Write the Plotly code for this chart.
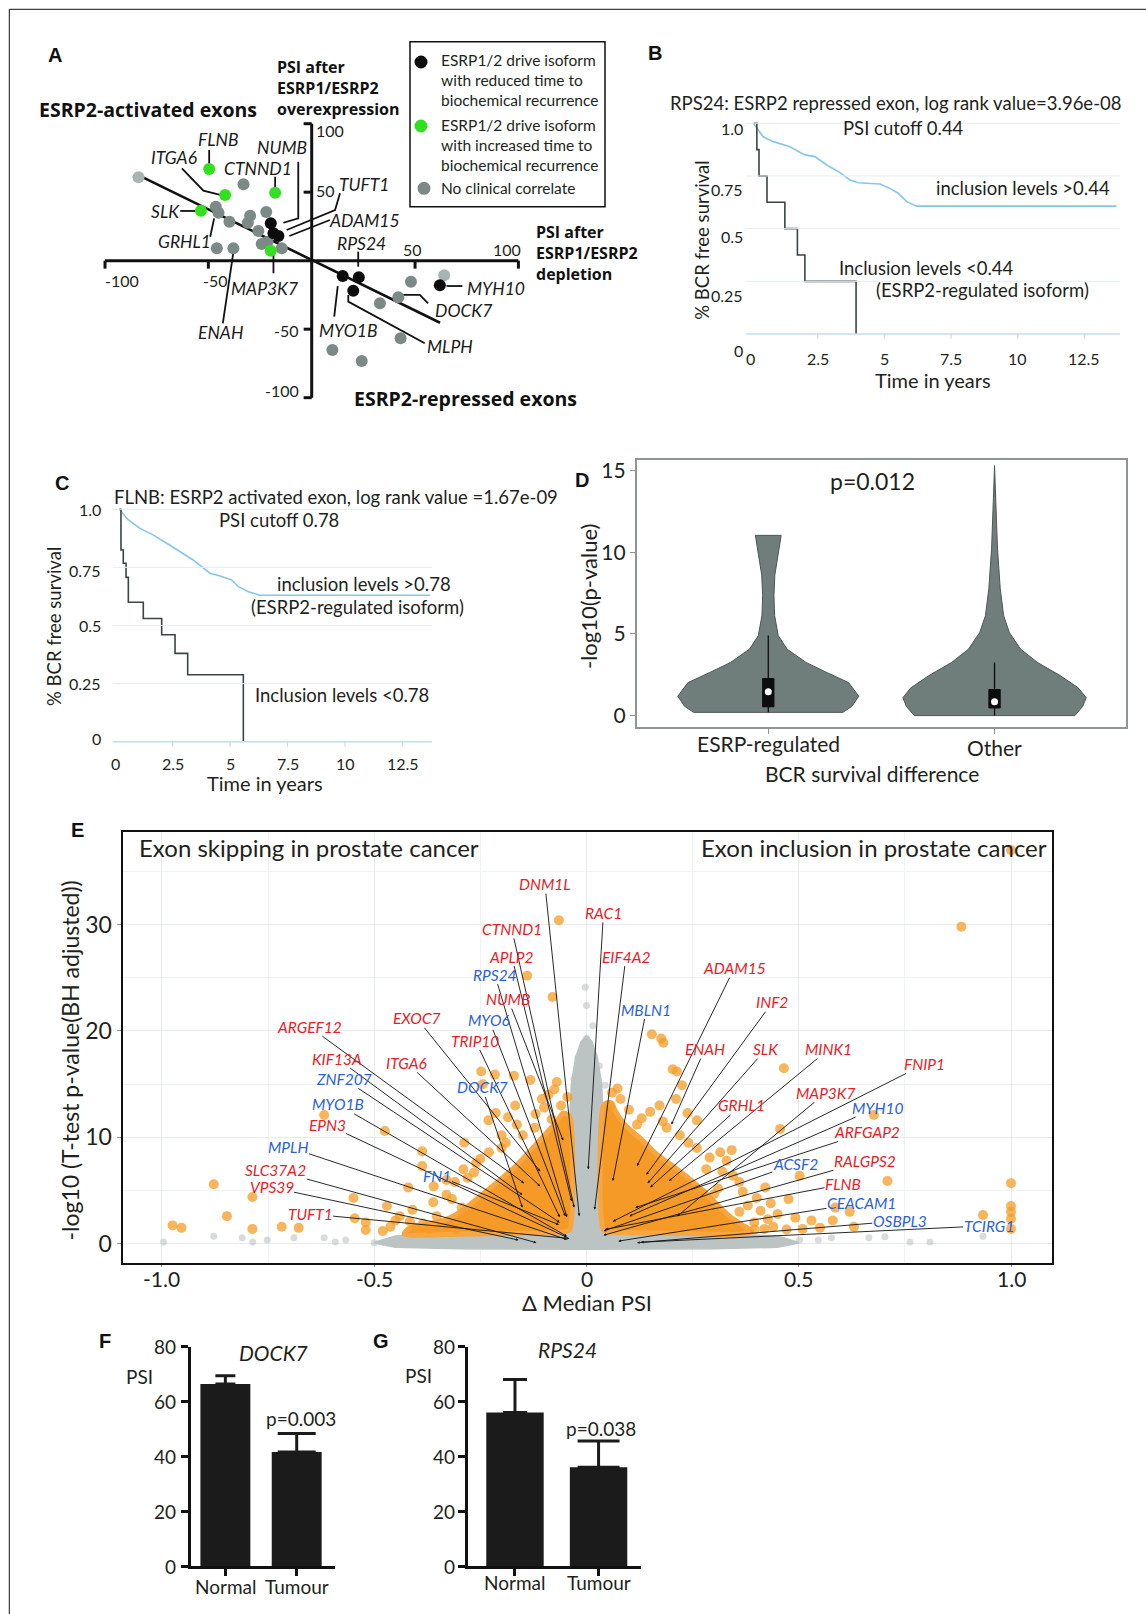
import plotly.graph_objects as go

W, H = 1146, 1614
FONT = "Lato, 'Open Sans', sans-serif"
BOLD = "'Open Sans', Lato, sans-serif"
HEAD = "'Liberation Sans', Arial, sans-serif"
INK = "#231f20"

# ================= DATA =================
# ---- Panel A: PSI after overexpression vs depletion ----
a_gray_x = [-33.0, -46.4, -45.1, -39.8, -29.8, -30.9, -22.0, -25.8, -45.9, -37.9, -24.2, -21.4, -14.5, 48.0, 41.9, 33.0, 43.0, 10.0, 24.2]
a_gray_y = [55.8, 39.4, 35.0, 28.5, 32.8, 27.7, 35.5, 21.7, 9.0, 9.0, 12.2, 13.9, 9.0, -15.3, -26.7, -31.1, -56.7, -65.2, -73.2]
a_light_x = [-83.8, 64.1]
a_light_y = [60.9, -10.7]
a_green_x = [-49.6, -41.9, -17.7, -53.6, -19.8]
a_green_y = [66.9, 48.0, 49.6, 36.5, 7.3]
a_black_x = [-19.8, -18.5, -16.1, 15.0, 22.8, 20.1, 62.0]
a_black_y = [27.3, 20.0, 18.0, -11.2, -12.1, -21.9, -18.0]
a_trend_x = [-83.9, 62.1]
a_trend_y = [62.5, -45.3]
a_genes = ["FLNB", "ITGA6", "CTNND1", "NUMB", "TUFT1", "ADAM15", "SLK", "GRHL1",
           "MAP3K7", "ENAH", "RPS24", "MYO1B", "MLPH", "DOCK7", "MYH10"]
a_gene_x = [-45.0, -66.8, -26.1, -14.2, 25.7, 25.7, -70.9, -61.7, -22.6, -44.3, 24.2, 17.7, 66.8, 73.2, 89.4]
a_gene_y = [88.8, 75.5, 67.4, 82.8, 55.3, 29.2, 35.8, 13.9, -20.1, -52.3, 12.7, -51.3, -62.3, -36.0, -20.1]
a_leaders = {
    "FLNB": [(-49.6, 80.8), (-49.6, 70.6)],
    "ITGA6": [(-62.8, 67.4), (-52.4, 51.1), (-44.3, 48.0)],
    "CTNND1": [(-17.7, 61.3), (-17.7, 53.6)],
    "NUMB": [(-6.5, 72.3), (-6.5, 30.9), (-13.7, 27.7)],
    "TUFT1": [(13.7, 49.2), (11.3, 37.0), (-12.1, 22.4)],
    "ADAM15": [(8.8, 29.7), (-10.8, 18.0)],
    "SLK": [(-63.6, 36.3), (-55.6, 36.3)],
    "GRHL1": [(-49.1, 17.5), (-47.2, 30.9)],
    "MAP3K7": [(-18.5, 5.4), (-18.5, -9.2)],
    "ENAH": [(-43.0, -45.7), (-37.5, 10.2)],
    "RPS24": [(22.5, 6.6), (22.5, -4.4)],
    "MYO1B": [(12.6, -18.5), (10.9, -40.9)],
    "MLPH": [(54.7, -60.3), (17.7, -29.9), (17.7, -25.0)],
    "DOCK7": [(56.3, -31.1), (52.3, -25.0), (44.3, -25.0)],
    "MYH10": [(65.2, -18.5), (72.9, -18.5)],
}
a_xtick_text = ["-100", "-50", "50", "100"]
a_xtick_vals = [-100, -50, 50, 100]
a_ytick_text = ["100", "50", "-50", "-100"]
a_ytick_vals = [100, 50, -50, -100]

# ---- Panel B: RPS24 Kaplan-Meier ----
b_hi_t = [0.09, 0.46, 0.84, 1.46, 2.02, 2.4, 2.84, 3.34, 3.71, 4.02, 4.84, 5.21, 5.52, 5.84, 6.21, 13.7]
b_hi_s = [1.0, 0.936, 0.913, 0.889, 0.85, 0.842, 0.802, 0.766, 0.731, 0.718, 0.712, 0.691, 0.668, 0.628, 0.607, 0.607]
b_lo_t = [0.1, 0.22, 0.3, 0.6, 1.27, 1.74, 2.02, 3.94]
b_lo_s = [1.0, 0.875, 0.75, 0.625, 0.5, 0.375, 0.25, 0.0]
km_ytick_vals = [1.0, 0.75, 0.5, 0.25, 0]
km_ytick_text = ["1.0", "0.75", "0.5", "0.25", "0"]
km_xtick_vals = [0, 2.5, 5, 7.5, 10, 12.5]
km_xtick_text = ["0", "2.5", "5", "7.5", "10", "12.5"]

# ---- Panel C: FLNB Kaplan-Meier ----
c_hi_t = [0.19, 0.58, 1.09, 1.67, 2.25, 2.83, 3.4, 4.13, 4.57, 5.07, 5.36, 5.8, 6.3, 13.7]
c_hi_s = [1.0, 0.954, 0.918, 0.889, 0.854, 0.818, 0.782, 0.725, 0.713, 0.696, 0.667, 0.645, 0.63, 0.63]
c_lo_t = [0.19, 0.26, 0.36, 0.48, 0.58, 1.23, 2.03, 2.61, 3.16, 5.58]
c_lo_s = [1.0, 0.825, 0.768, 0.707, 0.60, 0.53, 0.46, 0.38, 0.288, 0.0]

# ---- Panel D: violin profiles (value, half-width) and box statistics ----
d_cats = ["ESRP-regulated", "Other"]
esrp_prof_y = [0.2, 0.57, 1.19, 2.02, 2.63, 3.25, 4.07, 4.9, 6.13, 7.36, 8.6, 9.63, 10.45, 11.03]
esrp_prof_hw = [0.33, 0.37, 0.40, 0.355, 0.26, 0.167, 0.083, 0.044, 0.028, 0.025, 0.029, 0.041, 0.049, 0.057]
other_prof_y = [0.0, 0.57, 1.1, 1.7, 2.45, 3.25, 4.07, 5.1, 6.13, 7.8, 10.25, 13.3, 15.3]
other_prof_hw = [0.355, 0.39, 0.405, 0.37, 0.29, 0.19, 0.115, 0.065, 0.04, 0.025, 0.013, 0.005, 0.0]
d_q1 = [0.54, 0.47]
d_med = [1.46, 0.85]
d_q3 = [2.27, 1.6]
d_lo = [0.2, 0.0]
d_hi = [4.9, 3.25]
d_ytick_vals = [0, 5, 10, 15]

# ---- Panel E: volcano ----
e_or_x = [-0.975, -0.954, -0.878, -0.847, -0.787, -0.787, -0.718, -0.678, -0.618, -0.549, -0.546, -0.475, -0.47,
          -0.462, -0.42, -0.416, -0.40, -0.385, -0.37, -0.387, -0.387, -0.353, -0.361, -0.317, -0.307, -0.294,
          -0.288, -0.29, -0.265, -0.248, -0.216, -0.171, -0.132, -0.244, -0.231, -0.214, -0.185, -0.164, -0.168,
          -0.105, -0.076, -0.082, -0.056, -0.122, -0.08, -0.14, -0.065, -0.2, -0.25, -0.33, -0.06,
          -0.52, -0.44, -0.41, -0.36, -0.33, -0.31, -0.28, -0.26, -0.23, -0.2, -0.19, -0.15, -0.12, -0.1, -0.09,
          -0.07, -0.045, -0.52, -0.48, -0.45,
          1.0, 0.883, 0.154, 0.176, 0.181, 0.465, 0.203, 0.213, 0.073, 0.225, 0.057, 0.172, 0.211, 0.677, 0.456,
          0.238, 0.26, 0.119, 0.189, 0.075, 0.24, 0.315, 0.342, 0.33, 0.282, 0.345, 0.502, 0.709, 1.0, 0.421,
          0.368, 0.273, 0.3, 0.401, 0.476, 0.434, 0.586, 1.0, 1.0, 1.0, 1.0, 0.934, 0.492, 0.427, 0.395, 0.335,
          0.396, 0.419, 0.471, 0.509, 0.63, 0.289, 0.273,
          0.06, 0.08, 0.1, 0.13, 0.15, 0.18, 0.22, 0.26, 0.29, 0.32, 0.36, 0.38, 0.41, 0.45, 0.44, 0.36, 0.31,
          0.53, 0.55, 0.58, 0.62]
e_or_y = [1.73, 1.5, 5.6, 2.6, 4.4, 1.4, 1.6, 1.5, 12.1, 4.3, 2.4, 10.6, 3.55,
          1.6, 5.3, 2.1, 1.5, 1.9, 1.4, 8.7, 7.3, 2.6, 3.9, 4.2, 1.35, 3.4,
          9.5, 7.0, 6.7, 16.2, 15.9, 15.8, 15.4, 15.0, 11.6, 12.3, 11.9, 11.2, 13.0,
          13.6, 14.5, 11.7, 11.0, 10.9, 23.2, 25.2, 30.4, 9.0, 8.0, 6.0, 13.0,
          2.0, 2.6, 3.2, 5.4, 4.6, 5.8, 6.2, 7.6, 8.6, 10.2, 9.5, 10.2, 12.2, 12.8, 14.0,
          15.2, 13.8, 1.3, 1.2, 2.2,
          37.0, 29.8, 19.7, 19.3, 18.9, 16.5, 16.4, 16.2, 14.6, 14.9, 13.0, 13.0, 13.6, 12.1, 10.8,
          12.3, 11.6, 11.2, 10.9, 10.5, 9.5, 8.6, 8.8, 7.8, 7.0, 6.4, 6.4, 5.9, 5.7, 5.3,
          4.9, 4.8, 4.65, 4.3, 4.2, 3.8, 3.4, 3.55, 3.0, 2.35, 1.4, 2.7, 2.45, 2.3, 2.0, 1.7,
          1.35, 1.4, 1.35, 1.4, 1.6, 1.9, 1.6,
          14.2, 13.6, 12.6, 11.8, 12.4, 11.5, 10.2, 9.0, 8.1, 6.8, 5.8, 3.6, 3.1, 2.8, 1.6, 3.0, 5.2,
          2.2, 1.5, 2.2, 3.0]
e_gr_x = [-0.996, -0.878, -0.811, -0.786, -0.752, -0.689, -0.618, -0.592, -0.567, -0.5, -0.475, -0.437, -0.366,
          -0.349, -0.328, 0.546, 0.577, 0.665, 0.703, 0.762, 0.809, 0.934, 0.502, 0.445, 0.396, 0.352, 0.319,
          -0.003, 0.0, 0.0, 0.003, -0.017, 0.044, 0.026, 0.03, -0.03, -0.02, 0.015]
e_gr_y = [0.16, 0.7, 0.57, 0.16, 0.35, 0.57, 0.57, 0.16, 0.35, 0.1, 0.16, 0.4, 0.57,
          0.7, 0.25, 0.35, 0.57, 0.57, 0.66, 0.16, 0.16, 0.72, 0.35, 0.1, 0.1, 0.16, 0.35,
          24.1, 22.4, 19.3, 18.0, 16.6, 14.9, 14.1, 16.7, 15.5, 17.5, 20.5]
# dense regions (outlines)
e_core_x = [-0.5, -0.45, -0.3, -0.1, -0.04, -0.04, -0.035, -0.025, -0.012, 0.0, 0.012, 0.025, 0.035, 0.04, 0.04,
            0.1, 0.3, 0.45, 0.5, 0.45, 0.3, 0.0, -0.3, -0.45]
e_core_y = [0.1, 0.7, 1.0, 1.1, 1.2, 11.0, 15.0, 17.5, 19.0, 19.5, 19.0, 17.5, 15.0, 11.0, 1.2,
            1.1, 1.0, 0.7, 0.1, -0.3, -0.45, -0.5, -0.45, -0.3]
e_left_x = [-0.04, -0.04, -0.055, -0.07, -0.09, -0.12, -0.15, -0.18, -0.21, -0.25, -0.29, -0.33, -0.38, -0.42,
            -0.43, -0.3, -0.15, -0.06]
e_left_y = [1.3, 12.0, 12.3, 11.5, 10.6, 9.3, 8.0, 6.8, 5.8, 4.5, 3.2, 2.3, 1.8, 1.4, 0.9, 0.9, 1.0, 1.1]
e_right_x = [0.04, 0.04, 0.055, 0.075, 0.1, 0.13, 0.16, 0.2, 0.24, 0.28, 0.31, 0.34, 0.37, 0.39, 0.36, 0.2, 0.06]
e_right_y = [1.3, 13.0, 13.3, 12.0, 10.8, 9.8, 8.6, 7.4, 6.2, 4.8, 3.6, 2.5, 1.7, 1.2, 0.9, 1.0, 1.1]
# (gene, colour group, label x, label y, point x, point y)
e_labels = [
    ("DNM1L", "r", -0.098, 33.8, -0.017, 2.6), ("CTNND1", "r", -0.176, 29.6, -0.029, 3.4),
    ("APLP2", "r", -0.176, 27.0, -0.035, 4.0), ("RPS24", "b", -0.216, 25.3, -0.046, 2.5),
    ("NUMB", "r", -0.185, 23.0, -0.055, 9.7), ("MYO6", "b", -0.229, 21.0, -0.05, 2.6),
    ("TRIP10", "r", -0.262, 19.1, -0.063, 2.5), ("EXOC7", "r", -0.40, 21.2, -0.109, 6.8),
    ("ARGEF12", "r", -0.653, 20.4, -0.147, 5.7), ("KIF13A", "r", -0.587, 17.4, -0.151, 4.6),
    ("ITGA6", "r", -0.423, 17.0, -0.109, 5.4), ("ZNF207", "b", -0.571, 15.5, -0.063, 2.0),
    ("DOCK7", "b", -0.246, 14.7, -0.151, 3.4), ("MYO1B", "b", -0.586, 13.1, -0.046, 0.7),
    ("EPN3", "r", -0.611, 11.2, -0.046, 0.6), ("MPLH", "b", -0.702, 9.1, -0.046, 0.4),
    ("FN1", "b", -0.351, 6.4, -0.065, 1.8), ("SLC37A2", "r", -0.732, 6.9, -0.118, 0.1),
    ("VPS39", "r", -0.742, 5.3, -0.16, 0.35), ("TUFT1", "r", -0.651, 2.8, -0.04, 0.5),
    ("RAC1", "r", 0.04, 31.1, 0.004, 7.0), ("EIF4A2", "r", 0.093, 27.0, 0.019, 3.2),
    ("ADAM15", "r", 0.348, 25.9, 0.119, 7.3), ("MBLN1", "b", 0.141, 22.0, 0.062, 5.9),
    ("INF2", "r", 0.438, 22.7, 0.141, 6.5), ("ENAH", "r", 0.279, 18.3, 0.2, 11.2),
    ("SLK", "r", 0.423, 18.3, 0.144, 5.7), ("MINK1", "r", 0.571, 18.3, 0.194, 5.9),
    ("GRHL1", "r", 0.364, 13.0, 0.15, 5.3), ("FNIP1", "r", 0.797, 16.9, 0.062, 2.1),
    ("MAP3K7", "r", 0.564, 14.2, 0.214, 2.6), ("MYH10", "b", 0.685, 12.8, 0.101, 2.6),
    ("ARFGAP2", "r", 0.661, 10.5, 0.115, 3.4), ("ACSF2", "b", 0.492, 7.5, 0.04, 1.2),
    ("RALGPS2", "r", 0.656, 7.75, 0.04, 0.8), ("FLNB", "r", 0.604, 5.6, 0.044, 1.35),
    ("CEACAM1", "b", 0.648, 3.85, 0.075, 0.25), ("OSBPL3", "b", 0.738, 2.15, 0.119, 0.1),
    ("TCIRG1", "b", 0.947, 1.7, 0.128, 0.15),
]
e_xtick_vals = [-1.0, -0.5, 0, 0.5, 1.0]
e_xtick_text = ["-1.0", "-0.5", "0", "0.5", "1.0"]
e_ytick_vals = [0, 10, 20, 30]

# ---- Panels F, G: bar charts ----
fg_cats = ["Normal", "Tumour"]
f_vals = [66.4, 41.6]
f_err = [3.0, 6.7]
g_vals = [56.0, 36.0]
g_err = [12.0, 9.6]
fg_ytick_vals = [0, 20, 40, 60, 80]

# ================= FIGURE =================
fig = go.Figure()
ann, shapes = [], []


def dx(p0, p1):
    return [p0 / W, p1 / W]


def dy(q0, q1):
    return [1 - q1 / H, 1 - q0 / H]


def T(text, x, y, size, color=INK, family=FONT, xa="center", ya="middle", angle=0, align="center"):
    ann.append(dict(text=text, x=x / W, y=1 - y / H, xref="paper", yref="paper", showarrow=False,
                    font=dict(size=size, color=color, family=family), xanchor=xa, yanchor=ya,
                    textangle=angle, align=align))


def xlab(ax, v, text, y_px, size, xa="center"):
    ann.append(dict(text=text, x=v, xref="x" + ax, y=1 - y_px / H, yref="paper", showarrow=False,
                    xanchor=xa, yanchor="middle", font=dict(size=size, color=INK, family=FONT)))


def ylab(ax, v, text, x_px, size, shift=0):
    ann.append(dict(text=text, x=x_px / W, xref="paper", y=v, yref="y" + ax, yshift=shift, showarrow=False,
                    xanchor="right", yanchor="middle", font=dict(size=size, color=INK, family=FONT)))


def line_paper(x0, y0, x1, y1, color="#000", width=1):
    shapes.append(dict(type="line", xref="paper", yref="paper", x0=x0 / W, y0=1 - y0 / H,
                       x1=x1 / W, y1=1 - y1 / H, line=dict(color=color, width=width)))


def line_data(ax, x0, y0, x1, y1, color="#000", width=1):
    shapes.append(dict(type="line", xref="x" + ax, yref="y" + ax, x0=x0, y0=y0, x1=x1, y1=y1,
                       line=dict(color=color, width=width), layer="above"))


# outer frame
line_paper(9.3, 9.3, W, 9.3, "#111", 1)
line_paper(9.3, 9.3, 9.3, H, "#111", 1)

# ---------- Panel A ----------
A_GRAY, A_LIGHT, A_GREEN, A_BLACK = "#7b8a87", "#a9b3b3", "#33e01f", "#0d0d0d"
fig.add_trace(go.Scatter(x=a_trend_x, y=a_trend_y, mode="lines", line=dict(color="#111", width=2.6),
                         xaxis="x", yaxis="y"))
lx, ly = [], []
for g in a_genes:
    for (u, v) in a_leaders[g]:
        lx.append(u)
        ly.append(v)
    lx.append(None)
    ly.append(None)
fig.add_trace(go.Scatter(x=lx, y=ly, mode="lines", line=dict(color="#111", width=1.8),
                         xaxis="x", yaxis="y"))
for xs, ys, c in [(a_gray_x, a_gray_y, A_GRAY), (a_light_x, a_light_y, A_LIGHT),
                  (a_green_x, a_green_y, A_GREEN), (a_black_x, a_black_y, A_BLACK)]:
    fig.add_trace(go.Scatter(x=xs, y=ys, mode="markers", marker=dict(size=12, color=c),
                             xaxis="x", yaxis="y", cliponaxis=False))
# cross axes
line_data("", -100, 0, 100, 0, "#111", 3)
line_data("", 0, -100, 0, 100, "#111", 3)
for v in a_xtick_vals:
    line_data("", v, 0, v, -5.8, "#111", 3)
for v in a_ytick_vals:
    line_data("", 0, v, -3.9, v, "#111", 3)
for g, x, y in zip(a_genes, a_gene_x, a_gene_y):
    ann.append(dict(text="<i>" + g + "</i>", x=x, y=y, xref="x", yref="y", showarrow=False,
                    font=dict(size=17.5, color="#1a1a1a", family=FONT)))
a_xlab_px = [(121.7, 280.7), (215.0, 280.7), (412.7, 249.3), (506.7, 249.3)]
a_ylab_px = [(330.0, 130.7), (325.0, 190.0), (286.7, 330.0), (281.7, 390.7)]
for t, (x, y) in zip(a_xtick_text, a_xlab_px):
    T(t, x, y, 16)
for t, (x, y) in zip(a_ytick_text, a_ylab_px):
    T(t, x, y, 16)
T("<b>A</b>", 55, 55, 20, "#111", HEAD)
T("<b>ESRP2-activated exons</b>", 148.3, 109, 19.5, "#111", BOLD)
T("<b>PSI after<br>ESRP1/ESRP2<br>overexpression</b>", 274.5, 88, 16, "#111", BOLD, xa="left", align="left")
T("<b>PSI after<br>ESRP1/ESRP2<br>depletion</b>", 534, 253.3, 16, "#111", BOLD, xa="left", align="left")
T("<b>ESRP2-repressed exons</b>", 465.3, 399, 19.5, "#111", BOLD)
# legend box
shapes.append(dict(type="rect", xref="paper", yref="paper", x0=410 / W, x1=605 / W,
                   y0=1 - 206.7 / H, y1=1 - 41.7 / H, line=dict(color="#111", width=1.5)))
for (cx, cy, c) in [(421, 62.0, A_BLACK), (421, 126.0, A_GREEN), (424, 188.3, A_GRAY)]:
    shapes.append(dict(type="circle", xref="paper", yref="paper", x0=(cx - 6.5) / W, x1=(cx + 6.5) / W,
                       y0=1 - (cy + 6.5) / H, y1=1 - (cy - 6.5) / H, fillcolor=c, line=dict(width=0)))
T("ESRP1/2 drive isoform<br>with reduced time to<br>biochemical recurrence", 439.3, 80, 15.5, xa="left", align="left")
T("ESRP1/2 drive isoform<br>with increased time to<br>biochemical recurrence", 439.3, 145, 15.5, xa="left", align="left")
T("No clinical correlate", 439.3, 188.3, 15.5, xa="left", align="left")

# ---------- Panels B and C (Kaplan-Meier) ----------
KM_BLUE, KM_DARK, GRID, AXC = "#86c5ec", "#3a4447", "#e5edf2", "#c6dcea"


def km_panel(ax, t_hi, s_hi, t_lo, s_lo, tmin, tmax, ylab_x, ylab_shift, xlab_y):
    for s in [0.25, 0.5, 0.75, 1.0]:
        line_data(ax, tmin, s, tmax, s, GRID, 1)
    line_data(ax, tmin, 0, tmax, 0, AXC, 1.5)
    for v in km_xtick_vals[1:]:
        line_data(ax, v, 0, v, -0.022, AXC, 1.2)
    fig.add_trace(go.Scatter(x=t_hi, y=s_hi, mode="lines", line=dict(color=KM_BLUE, width=1.6),
                             xaxis="x" + ax, yaxis="y" + ax))
    fig.add_trace(go.Scatter(x=t_lo, y=s_lo, mode="lines", line=dict(color=KM_DARK, width=1.6, shape="hv"),
                             xaxis="x" + ax, yaxis="y" + ax))
    for v, s, sh in zip(km_ytick_vals, km_ytick_text, ylab_shift):
        ylab(ax, v, s, ylab_x, 16, sh)
    for v, s in zip(km_xtick_vals, km_xtick_text):
        xlab(ax, v, s, xlab_y, 16)


km_panel("2", b_hi_t, b_hi_s, b_lo_t, b_lo_s, -0.19, 13.83, 745, [-5, -14, -8, -14, -16], 358.5)
km_panel("3", c_hi_t, c_hi_s, c_lo_t, c_lo_s, -0.1, 13.78, 103.3, [0, -3, 0, 0, 3], 763.3)

T("<b>B</b>", 655, 52.7, 20, "#111", HEAD)
T("RPS24: ESRP2 repressed exon, log rank value=3.96e-08", 895, 102.7, 18.5)
T("PSI cutoff 0.44", 903.3, 128.3, 18.5)
T("inclusion levels >0.44", 1023.3, 188.3, 18.5)
T("Inclusion levels <0.44", 926.7, 268.3, 18.5)
T("(ESRP2-regulated isoform)", 982.7, 290, 18.5)
T("% BCR free survival", 701.7, 240, 18.5, angle=-90)
T("Time in years", 933.3, 380, 20)

T("<b>C</b>", 61.7, 482.7, 20, "#111", HEAD)
T("FLNB: ESRP2 activated exon, log rank value =1.67e-09", 336, 496.7, 18.5)
T("PSI cutoff 0.78", 279.3, 520, 18.5)
T("inclusion levels >0.78", 364, 584, 18.5)
T("(ESRP2-regulated isoform)", 357, 607, 18.5)
T("Inclusion levels <0.78", 341.7, 695, 18.5)
T("% BCR free survival", 53.3, 626.7, 18.5, angle=-90)
T("Time in years", 265, 783.3, 20)

# ---------- Panel D (violins with boxes) ----------
V_FILL, V_EDGE = "#6f7e7b", "#4c5755"
for i, (py_, phw) in enumerate([(esrp_prof_y, esrp_prof_hw), (other_prof_y, other_prof_hw)]):
    xs = [i + w for w in phw] + [i - w for w in reversed(phw)] + [i + phw[0]]
    ys = list(py_) + list(reversed(py_)) + [py_[0]]
    fig.add_trace(go.Scatter(x=xs, y=ys, mode="lines", fill="toself", fillcolor=V_FILL,
                             line=dict(color=V_EDGE, width=1), xaxis="x4", yaxis="y4"))
BOXW = 0.025
for i in range(2):
    fig.add_trace(go.Scatter(x=[i, i], y=[d_lo[i], d_hi[i]], mode="lines", line=dict(color="#0d0d0d", width=1.3),
                             xaxis="x4", yaxis="y4"))
    fig.add_trace(go.Scatter(x=[i - BOXW, i + BOXW, i + BOXW, i - BOXW, i - BOXW],
                             y=[d_q1[i], d_q1[i], d_q3[i], d_q3[i], d_q1[i]], mode="lines", fill="toself",
                             fillcolor="#0d0d0d", line=dict(color="#0d0d0d", width=1), xaxis="x4", yaxis="y4"))
fig.add_trace(go.Scatter(x=[0, 1], y=d_med, mode="markers", marker=dict(color="white", size=7),
                         xaxis="x4", yaxis="y4"))
for v, s, ypx in zip([0, 1], d_cats, [743.5, 747.5]):
    xlab("4", v, s, ypx, 21)
T("<b>D</b>", 582.2, 479.8, 20, "#111", HEAD)
T("p=0.012", 872, 481, 23)
T("BCR survival difference", 872, 773, 21)
T("-log10(p-value)", 588, 597, 22, angle=-90)

# ---------- Panel E (volcano) ----------
fig.add_trace(go.Scatter(x=e_gr_x, y=e_gr_y, mode="markers",
                         marker=dict(size=7, color="rgba(178,186,186,0.5)"), xaxis="x5", yaxis="y5"))
fig.add_trace(go.Scatter(x=e_core_x + [e_core_x[0]], y=e_core_y + [e_core_y[0]], mode="lines", fill="toself",
                         fillcolor="#bcc3c3", line=dict(color="#bcc3c3", width=2), xaxis="x5", yaxis="y5"))
for xs, ys in [(e_left_x, e_left_y), (e_right_x, e_right_y)]:
    fig.add_trace(go.Scatter(x=xs + [xs[0]], y=ys + [ys[0]], mode="lines", fill="toself",
                             fillcolor="#f59a26", line=dict(color="#f7a640", width=5, shape="spline", smoothing=0.6),
                             xaxis="x5", yaxis="y5"))
fig.add_trace(go.Scatter(x=e_or_x, y=e_or_y, mode="markers",
                         marker=dict(size=10, color="rgba(246,156,38,0.75)"), xaxis="x5", yaxis="y5",
                         cliponaxis=True))
E_COL = {"r": "#ea1c26", "b": "#2b5fe0"}
for g, c, tx, ty, px_, py_ in e_labels:
    ann.append(dict(text="<i>" + g + "</i>", x=px_, y=py_, xref="x5", yref="y5", ax=tx, ay=ty,
                    axref="x5", ayref="y5", showarrow=True, arrowhead=2, arrowsize=0.6, arrowwidth=0.9,
                    arrowcolor="#111", standoff=0, borderpad=0,
                    font=dict(size=15.5, color=E_COL[c], family=FONT)))
for v, s in zip(e_xtick_vals, e_xtick_text):
    xlab("5", v, s, 1278.5, 21)
T("<b>E</b>", 77.5, 830, 20, "#111", HEAD)
T("Exon skipping in prostate cancer", 137, 847.4, 24, xa="left")
T("Exon inclusion in prostate cancer", 1049, 847.4, 24, xa="right")
T("-log10 (T-test p-value(BH adjusted))", 69, 1060.5, 23, angle=-90)
T("\u0394 Median PSI", 587, 1302, 22)

# ---------- Panels F and G (bars) ----------
for ax, vals, errs, caps in [("6", f_vals, f_err, [10, 19]), ("7", g_vals, g_err, [12, 21])]:
    for i in range(2):
        fig.add_trace(go.Bar(x=[i], y=[vals[i]], width=0.7 if ax == "6" else 0.687,
                             marker=dict(color="#1b1b1b", line=dict(width=0)),
                             error_y=dict(type="data", symmetric=False, array=[errs[i]], arrayminus=[0],
                                          color="#1b1b1b", thickness=3, width=caps[i]),
                             xaxis="x" + ax, yaxis="y" + ax))
for ax, xr_px, xl_y in [("6", 178, 1586.6), ("7", 457, 1582.5)]:
    for v in fg_ytick_vals:
        ylab(ax, v, str(v), xr_px, 19)
    for v, s in zip([0, 1], fg_cats):
        xlab(ax, v, s, xl_y, 19)
T("<b>F</b>", 105, 1340.5, 20, "#111", HEAD)
T("<b>G</b>", 381, 1340.5, 20, "#111", HEAD)
T("<i>DOCK7</i>", 273.9, 1352, 21)
T("<i>RPS24</i>", 567, 1349, 21)
T("PSI", 139, 1376.6, 19)
T("PSI", 418.7, 1375, 19)
T("p=0.003", 300.6, 1418.8, 19)
T("p=0.038", 601.3, 1428, 19)

# ================= LAYOUT =================
hid = dict(showgrid=False, zeroline=False, showticklabels=False, showline=False, ticks="")
tf = dict(family=FONT, color=INK)
layout = dict(
    width=W, height=H, margin=dict(l=0, r=0, t=0, b=0, pad=0, autoexpand=False),
    paper_bgcolor="white", plot_bgcolor="white",
    showlegend=False, barmode="overlay", annotations=ann, shapes=shapes, hovermode=False,
    xaxis=dict(domain=dx(40, 640), range=[-131.45, 158.83], anchor="y", **hid),
    yaxis=dict(domain=dy(40, 420), range=[-116.3, 161.1], anchor="x", **hid),
    xaxis2=dict(domain=dx(700, 1140), range=[-1.912, 14.586], anchor="y2", **hid),
    yaxis2=dict(domain=dy(100, 345), range=[-0.0522, 1.1106], anchor="x2", **hid),
    xaxis3=dict(domain=dx(100, 440), range=[-0.652, 14.13], anchor="y3", **hid),
    yaxis3=dict(domain=dy(490, 760), range=[-0.0787, 1.083], anchor="x3", **hid),
    xaxis4=dict(domain=dx(636.6, 1126), range=[-0.582, 1.581], anchor="y4", tickmode="array",
                tickvals=[0, 1], showticklabels=False, ticks="outside", ticklen=5, tickcolor="#8d9595",
                showline=True, mirror=True, linecolor="#8d9595", linewidth=1.5, showgrid=False,
                zeroline=False),
    yaxis4=dict(domain=dy(460.2, 726.9), range=[-0.69, 15.63], anchor="x4", tickmode="array",
                tickvals=d_ytick_vals, ticks="outside", ticklen=5, tickcolor="#8d9595",
                showline=True, mirror=True, linecolor="#8d9595", linewidth=1.5, showgrid=False,
                zeroline=False, tickfont=dict(size=21, **tf)),
    xaxis5=dict(domain=dx(122.5, 1052.2), range=[-1.093, 1.097], anchor="y5", tickmode="array",
                tickvals=e_xtick_vals, showticklabels=False, ticks="outside", ticklen=2, tickcolor="#999",
                showline=True, mirror=True, linecolor="#111", linewidth=2, showgrid=True,
                gridcolor="#e6ecee", gridwidth=1, zeroline=False,
                minor=dict(tick0=0, dtick=0.25, showgrid=True, gridcolor="#eff3f4", ticks="")),
    yaxis5=dict(domain=dy(831.9, 1263.3), range=[-1.833, 38.71], anchor="x5", tickmode="array",
                tickvals=e_ytick_vals, ticks="outside", ticklen=4, tickcolor="#999",
                showline=True, mirror=True, linecolor="#111", linewidth=2, showgrid=True,
                gridcolor="#e6ecee", gridwidth=1, zeroline=False, tickfont=dict(size=23, **tf),
                minor=dict(tick0=0, dtick=5, showgrid=True, gridcolor="#eff3f4", ticks="")),
)
for ax, xr, dom in [("6", [-0.482, 1.53], dx(191, 334.5)), ("7", [-0.562, 1.504], dx(468, 640.7))]:
    layout["xaxis" + ax] = dict(domain=dom, range=xr, anchor="y" + ax, tickmode="array", tickvals=[0, 1],
                                showticklabels=False, ticks="outside", ticklen=7, tickwidth=2.5, tickcolor="#111",
                                showline=True, linecolor="#111", linewidth=3, showgrid=False, zeroline=False)
    layout["yaxis" + ax] = dict(domain=dy(1346.7, 1566), range=[0, 80], anchor="x" + ax, tickmode="array",
                                tickvals=fg_ytick_vals, showticklabels=False, ticks="outside", ticklen=7,
                                tickwidth=2.5, tickcolor="#111", showline=True, linecolor="#111", linewidth=3,
                                showgrid=False, zeroline=False)
fig.update_layout(**layout)

fig.write_html("out.html", config={"displayModeBar": False},
               post_script="document.body.style.margin='0';document.body.style.overflow='hidden';")
